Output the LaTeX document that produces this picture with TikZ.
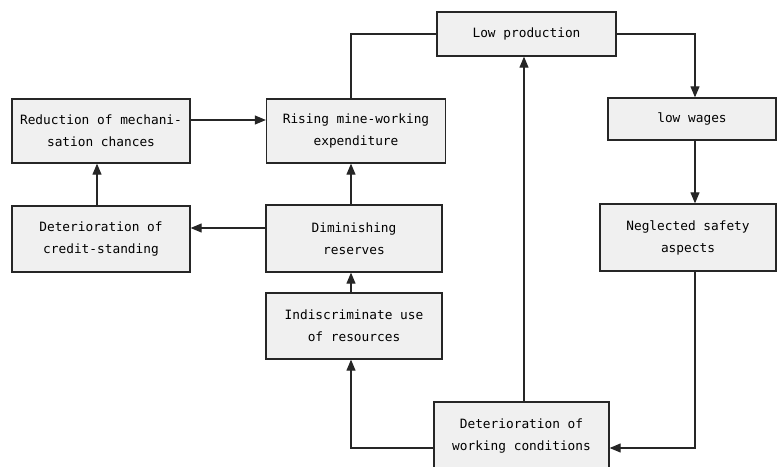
\documentclass[tikz,border=0pt]{standalone}
\usepackage{fontspec}
\setmonofont{DejaVu Sans Mono}
\usetikzlibrary{arrows.meta}
\begin{document}
\begin{tikzpicture}[x=1pt,y=-1pt,
  box/.style={draw=black!85, line width=1.3pt, fill=gray!12, rectangle, align=center,
    inner sep=0pt, font=\fontsize{12.8}{22}\ttfamily},
  arr/.style={draw=black!85, line width=1.1pt, -{Triangle[length=11pt,width=9pt]}},
  ln/.style={draw=black!85, line width=1.1pt}]
\clip (0,0) rectangle (784,466);
\node[box, minimum width=178, minimum height=64] (red) at (101,131) {Reduction of mechani-\\sation chances};
\node[box, minimum width=179, minimum height=64] (rise) at (356,131) {Rising mine-working\\expenditure};
\node[box, minimum width=178, minimum height=66] (cred) at (101,239) {Deterioration of\\credit-standing};
\node[box, minimum width=176, minimum height=67] (dim) at (354,238.5) {Diminishing\\reserves};
\node[box, minimum width=176, minimum height=66] (ind) at (354,326) {Indiscriminate use\\of resources};
\node[box, minimum width=175, minimum height=68] (wc) at (521.5,436) {Deterioration of\\working conditions};
\node[box, minimum width=176, minimum height=67] (neg) at (688,237.5) {Neglected safety\\aspects};
\node[box, minimum width=168, minimum height=42] (wag) at (692,119) {low wages};
\node[box, minimum width=179, minimum height=44] (prod) at (526.5,34) {Low production};
\coordinate (vx) at (351,0);
\coordinate (rx) at (695,0);
\coordinate (cx) at (524,0);
\draw[arr] (prod.east) -| (wag.north-|rx);
\draw[arr] (wag.south-|rx) -- (neg.north-|rx);
\draw[arr] (neg.south-|rx) |- ([yshift=-12]wc.east);
\draw[arr] ([yshift=-12]wc.west) -| (ind.south-|vx);
\draw[arr] (ind.north-|vx) -- (dim.south-|vx);
\draw[arr] (dim.north-|vx) -- (rise.south-|vx);
\draw[arr] ([yshift=10.5]dim.west) -- ([yshift=10.5]cred.east|-dim.west);
\draw[arr] ([xshift=-4]cred.north) -- ([xshift=-4]red.south);
\draw[arr] ([yshift=11]red.east) -- ([yshift=11]rise.west);
\draw[ln] (rise.north-|vx) |- (prod.west);
\draw[arr] (wc.north-|cx) -- (prod.south-|cx);
\end{tikzpicture}
\end{document}
